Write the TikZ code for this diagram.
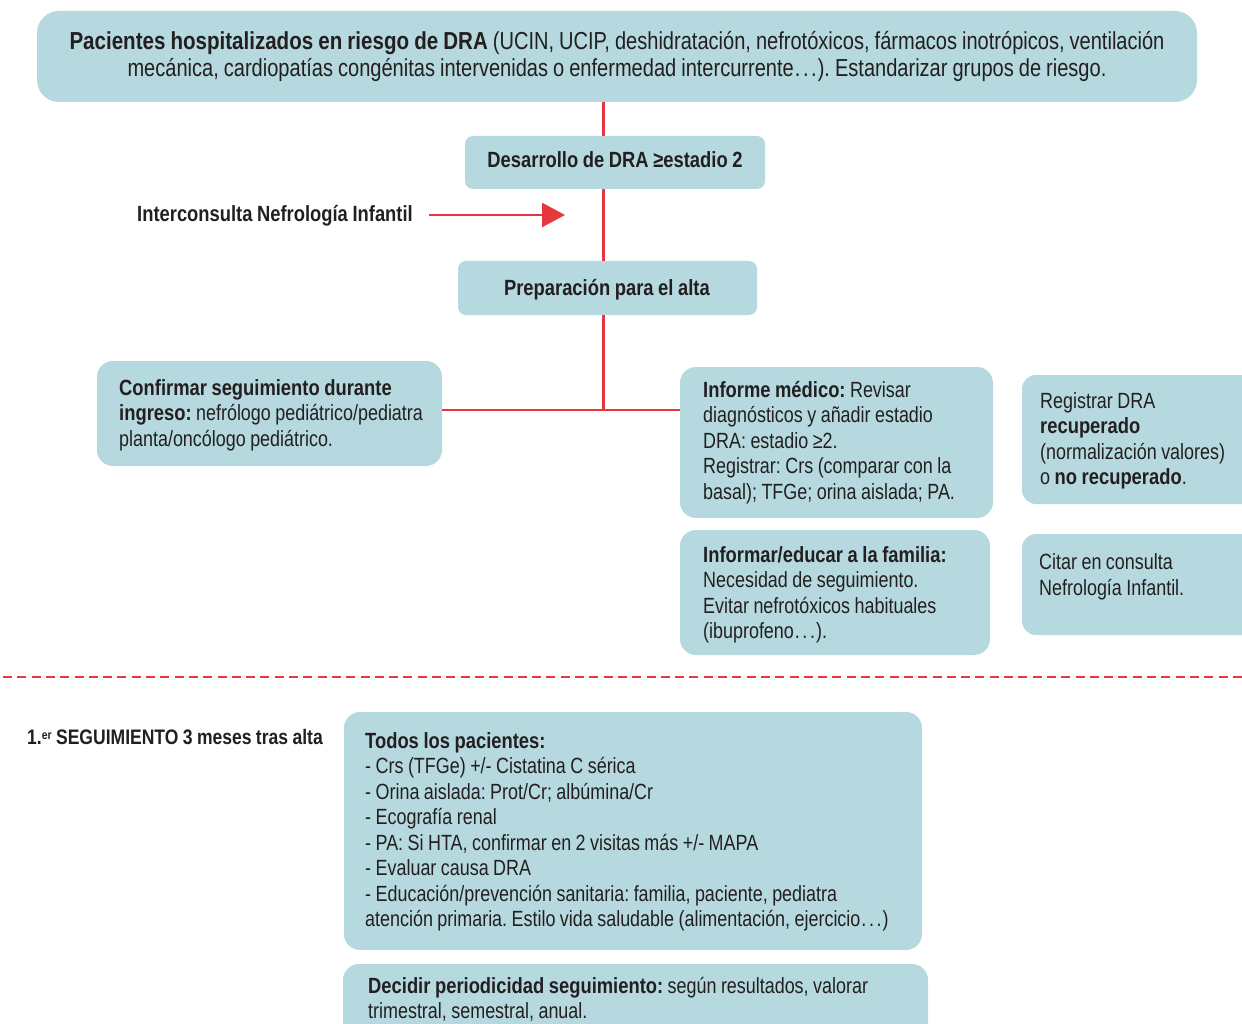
\documentclass[tikz,border=0pt]{standalone}
\usepackage{fontspec}
\setmainfont{Liberation Sans}[FakeStretch=0.815, WordSpace=0.9, BoldFeatures={FakeStretch=0.835}]
\usetikzlibrary{arrows.meta}
\definecolor{boxc}{HTML}{B5D9DE}
\definecolor{redc}{HTML}{E8363F}
\definecolor{textc}{HTML}{231F20}
\newcommand\dotsx{\kern1pt.\kern2.6pt.\kern2.6pt.\kern1pt}
\tikzset{
  boxn/.style={rectangle, fill=boxc, draw=none, inner sep=0pt},
  txt/.style={inner sep=0pt, text width=600pt, align=left, text=textc,
    font=\frenchspacing\fontsize{22}{25.5}\selectfont,
    execute at begin node={\spaceskip=0pt\xspaceskip=0pt\relax}},
  ctxt/.style={inner sep=0pt, align=center, text=textc,
    font=\frenchspacing\fontsize{22}{25.5}\selectfont,
    execute at begin node={\spaceskip=0pt\xspaceskip=0pt\relax}},
  conn/.style={draw=redc, line width=2.5pt},
}
\begin{document}
\begin{tikzpicture}[x=1pt,y=-1pt]
\useasboundingbox (0,0) rectangle (1242,1024);
\clip (0,0) rectangle (1242,1024);
% boxes
\node[boxn, rounded corners=22pt, minimum width=1160pt, minimum height=91pt] (top) at (617,56.5) {};
\node[boxn, rounded corners=8pt, minimum width=300pt, minimum height=53pt] (des) at (615,162.5) {};
\node[boxn, rounded corners=8pt, minimum width=299pt, minimum height=54pt] (prep) at (607.5,288) {};
\node[boxn, rounded corners=16pt, minimum width=345pt, minimum height=105pt] (conf) at (269.5,413.5) {};
\node[boxn, rounded corners=16pt, minimum width=313pt, minimum height=151pt] (inf) at (836.5,442.5) {};
\node[boxn, rounded corners=16pt, minimum width=310pt, minimum height=125pt] (fam) at (835,592.5) {};
\node[boxn, rounded corners=14pt, minimum width=240pt, minimum height=129pt] (reg) at (1142,439.5) {};
\node[boxn, rounded corners=14pt, minimum width=240pt, minimum height=101pt] (cit) at (1142,584.5) {};
\node[boxn, rounded corners=16pt, minimum width=578pt, minimum height=238pt] (todos) at (633,831) {};
\node[boxn, rounded corners=16pt, minimum width=585pt, minimum height=96pt] (dec) at (635.5,1012) {};
% connectors
\coordinate (J) at (603.5,410);
\draw[conn] (top.south -| J) -- (des.north -| J);
\draw[conn] (des.south -| J) -- (prep.north -| J);
\draw[conn] (prep.south -| J) -- (J);
\draw[conn] (conf.east |- J) -- (inf.west |- J);
\coordinate (arrS) at (429,215);
\coordinate (arrE) at (565,215);
\draw[conn, -{Triangle[length=23pt,width=24pt]}] (arrS) -- (arrE);
\coordinate (dashL) at (3,677);
\coordinate (dashR) at (1242,677);
\draw[draw=redc, line width=2.7pt, dash pattern=on 9pt off 5.3pt] (dashL) -- (dashR);
% texts
\node[ctxt, text width=1180pt, anchor=base, font=\frenchspacing\fontsize{24.6}{27}\selectfont,
  execute at begin node={\spaceskip=0pt\xspaceskip=0pt\leftskip=0pt plus 1fil\rightskip=0pt plus 1fil\parfillskip=0pt\relax}] (topT) at (617,49.5)
  {\textbf{Pacientes hospitalizados en riesgo de DRA} (UCIN, UCIP, deshidratación, nefrotóxicos, fármacos inotrópicos, ventilación\\
   mecánica, cardiopatías congénitas intervenidas o enfermedad intercurrente\dotsx). Estandarizar grupos de riesgo.};
\node[ctxt, anchor=base] (desT) at (615,168) {\textbf{Desarrollo de DRA ≥estadio 2}};
\node[ctxt, anchor=base] (prepT) at (607,295) {\textbf{Preparación para el alta}};
\node[ctxt, anchor=base west] (icT) at (137,222) {\textbf{Interconsulta Nefrología Infantil}};
\node[ctxt, anchor=base west, font=\frenchspacing\fontsize{21}{25}\selectfont] (segT) at (27,744) {\textbf{1.\raisebox{5pt}{\fontsize{12.5}{13}\selectfont er} SEGUIMIENTO 3 meses tras alta}};
\node[txt, anchor=base west] (confT) at (119,395)
  {\textbf{Confirmar seguimiento durante}\\
   \textbf{ingreso:} nefrólogo pediátrico/pediatra\\
   planta/oncólogo pediátrico.};
\node[txt, anchor=base west] (infT) at (703,397)
  {\textbf{Informe médico:} Revisar\\
   diagnósticos y añadir estadio\\
   DRA: estadio ≥2.\\
   Registrar: Crs (comparar con la\\
   basal); TFGe; orina aislada; PA.};
\node[txt, anchor=base west] (famT) at (703,562)
  {\textbf{Informar/educar a la familia:}\\
   Necesidad de seguimiento.\\
   Evitar nefrotóxicos habituales\\
   (ibuprofeno\dotsx).};
\node[txt, anchor=base west] (regT) at (1040,408)
  {Registrar DRA\\
   \textbf{recuperado}\\
   (normalización valores)\\
   o \textbf{no recuperado}.};
\node[txt, anchor=base west] (citT) at (1039,569.5)
  {Citar en consulta\\
   Nefrología Infantil.};
\node[txt, anchor=base west] (todosT) at (365,748)
  {\textbf{Todos los pacientes:}\\
   - Crs (TFGe) +/- Cistatina C sérica\\
   - Orina aislada: Prot/Cr; albúmina/Cr\\
   - Ecografía renal\\
   - PA: Si HTA, confirmar en 2 visitas más +/- MAPA\\
   - Evaluar causa DRA\\
   - Educación/prevención sanitaria: familia, paciente, pediatra\\
   atención primaria. Estilo vida saludable (alimentación, ejercicio\dotsx)};
\node[txt, anchor=base west] (decT) at (368,993)
  {\textbf{Decidir periodicidad seguimiento:} según resultados, valorar\\
   trimestral, semestral, anual.};
\end{tikzpicture}
\end{document}
